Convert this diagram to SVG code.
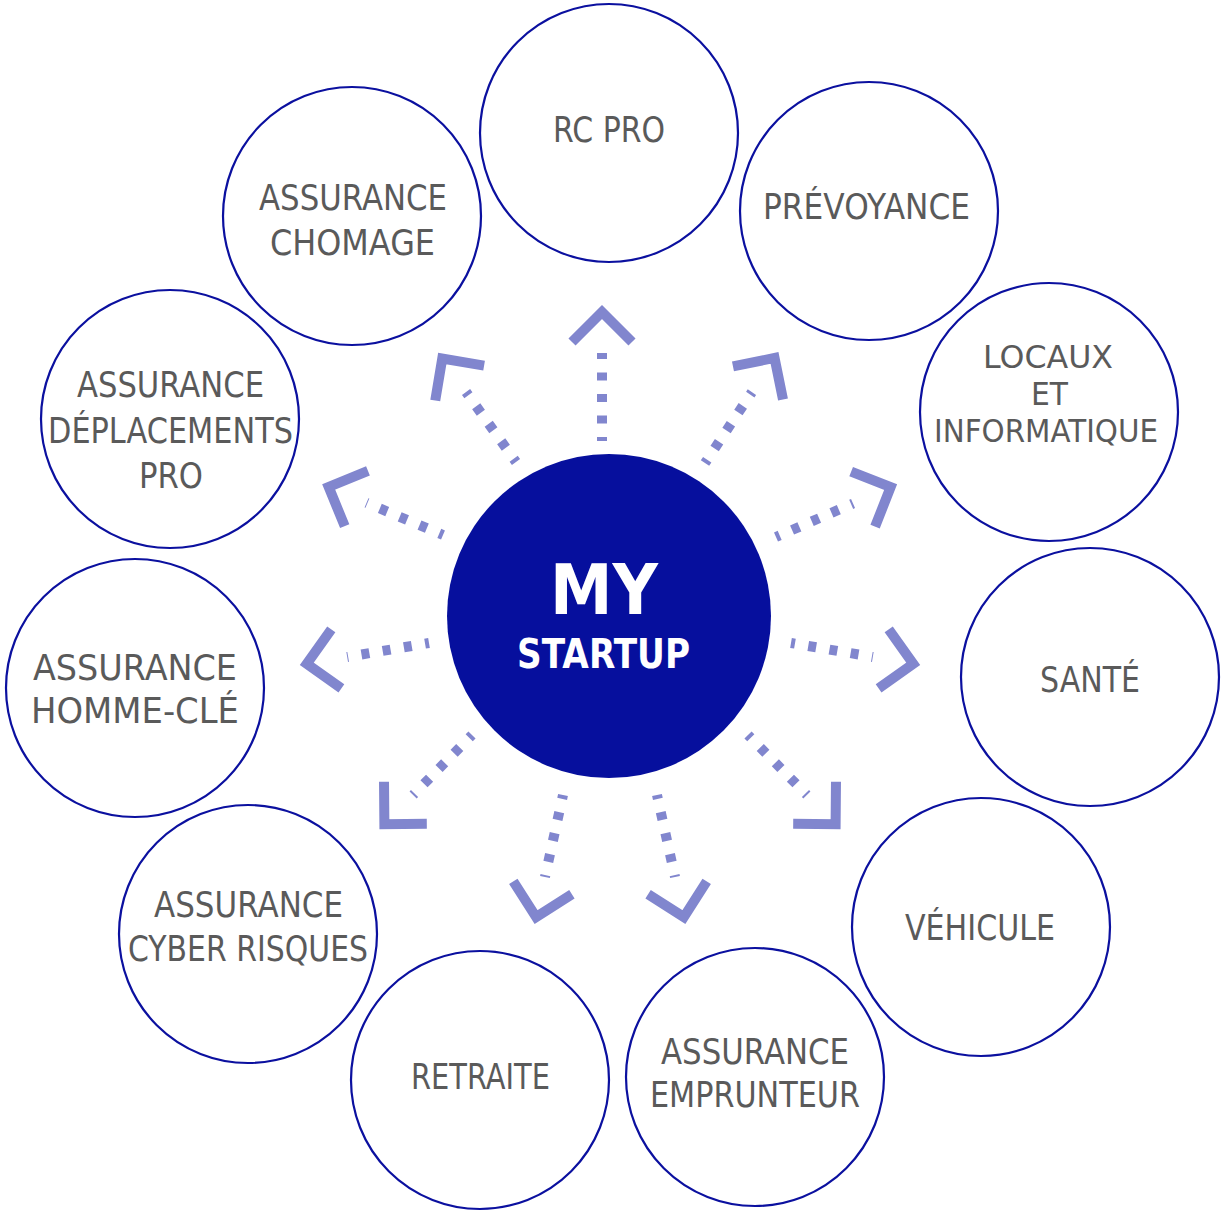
<svg xmlns="http://www.w3.org/2000/svg" width="1221" height="1214" viewBox="0 0 1221 1214">
<defs>
<style>
.node{fill:#ffffff;stroke:#0b109f;stroke-width:2.2}
.lbl{font-family:"DejaVu Sans","Open Sans",sans-serif;font-size:35px;fill:#5a5a5a;text-anchor:middle}
.sm{font-size:31.5px}
.hub{fill:#060f9d}
.hubt{font-family:"DejaVu Sans","Open Sans",sans-serif;font-weight:bold;fill:#ffffff;text-anchor:middle}
.dash{stroke:#8186ce;stroke-width:10;stroke-dasharray:8 13.5;stroke-dashoffset:4;fill:none}
.chev{stroke:#8186ce;stroke-width:10;fill:none;stroke-linejoin:miter;stroke-linecap:butt}
</style>
</defs>
<rect width="1221" height="1214" fill="#ffffff"/>
<g id="connectors">
<g transform="translate(602,441) rotate(-90)"><line class="dash" x1="0" y1="0" x2="88" y2="0"/><polyline class="chev" points="99,-30 129,0 99,30"/></g>
<g transform="translate(705,463) rotate(-56.5)"><line class="dash" x1="0" y1="0" x2="85" y2="0"/><polyline class="chev" points="96,-30 126,0 96,30"/></g>
<g transform="translate(776,537) rotate(-23.5)"><line class="dash" x1="0" y1="0" x2="84" y2="0"/><polyline class="chev" points="95,-30 125,0 95,30"/></g>
<g transform="translate(791,643) rotate(9.7)"><line class="dash" x1="0" y1="0" x2="83" y2="0"/><polyline class="chev" points="94,-30 124,0 94,30"/></g>
<g transform="translate(748,735) rotate(45.5)"><line class="dash" x1="0" y1="0" x2="84" y2="0"/><polyline class="chev" points="95,-30 125,0 95,30"/></g>
<g transform="translate(657,795) rotate(77.6)"><line class="dash" x1="0" y1="0" x2="84" y2="0"/><polyline class="chev" points="95,-30 125,0 95,30"/></g>
<g transform="translate(563,795) rotate(102.4)"><line class="dash" x1="0" y1="0" x2="84" y2="0"/><polyline class="chev" points="95,-30 125,0 95,30"/></g>
<g transform="translate(472,735) rotate(134.5)"><line class="dash" x1="0" y1="0" x2="84" y2="0"/><polyline class="chev" points="95,-30 125,0 95,30"/></g>
<g transform="translate(429,643) rotate(170.3)"><line class="dash" x1="0" y1="0" x2="83" y2="0"/><polyline class="chev" points="94,-30 124,0 94,30"/></g>
<g transform="translate(443,535) rotate(-157.2)"><line class="dash" x1="0" y1="0" x2="83" y2="0"/><polyline class="chev" points="94,-30 124,0 94,30"/></g>
<g transform="translate(516,462) rotate(-125.5)"><line class="dash" x1="0" y1="0" x2="86" y2="0"/><polyline class="chev" points="97,-30 127,0 97,30"/></g>
</g>
<g id="hub">
<circle class="hub" cx="609" cy="616" r="162"/>
<text class="hubt" x="604" y="614" font-size="70" textLength="108" lengthAdjust="spacingAndGlyphs">MY</text>
<text class="hubt" x="603.5" y="668" font-size="40" textLength="173" lengthAdjust="spacingAndGlyphs">STARTUP</text>
</g>
<g id="rc-pro">
<circle class="node" cx="609" cy="133" r="129"/>
<text class="lbl" x="609" y="142" textLength="112" lengthAdjust="spacingAndGlyphs">RC PRO</text>
</g>
<g id="prevoyance">
<circle class="node" cx="869" cy="211" r="129"/>
<text class="lbl" x="866.5" y="219" textLength="207" lengthAdjust="spacingAndGlyphs">PRÉVOYANCE</text>
</g>
<g id="locaux">
<circle class="node" cx="1049" cy="412" r="129"/>
<text class="lbl sm" x="1048" y="368" textLength="130" lengthAdjust="spacingAndGlyphs">LOCAUX</text>
<text class="lbl sm" x="1049.5" y="405" textLength="37" lengthAdjust="spacingAndGlyphs">ET</text>
<text class="lbl sm" x="1046" y="442" textLength="224" lengthAdjust="spacingAndGlyphs">INFORMATIQUE</text>
</g>
<g id="sante">
<circle class="node" cx="1090" cy="677" r="129"/>
<text class="lbl" x="1090" y="692" textLength="100" lengthAdjust="spacingAndGlyphs">SANTÉ</text>
</g>
<g id="vehicule">
<circle class="node" cx="981" cy="927" r="129"/>
<text class="lbl" x="980" y="940" textLength="150" lengthAdjust="spacingAndGlyphs">VÉHICULE</text>
</g>
<g id="emprunteur">
<circle class="node" cx="755" cy="1077" r="129"/>
<text class="lbl" x="755" y="1064" textLength="188" lengthAdjust="spacingAndGlyphs">ASSURANCE</text>
<text class="lbl" x="755" y="1107" textLength="210" lengthAdjust="spacingAndGlyphs">EMPRUNTEUR</text>
</g>
<g id="retraite">
<circle class="node" cx="480" cy="1080" r="129"/>
<text class="lbl" x="480.5" y="1089" textLength="139" lengthAdjust="spacingAndGlyphs">RETRAITE</text>
</g>
<g id="cyber">
<circle class="node" cx="248" cy="934" r="129"/>
<text class="lbl" x="248.5" y="917" textLength="189" lengthAdjust="spacingAndGlyphs">ASSURANCE</text>
<text class="lbl" x="248" y="961" textLength="240" lengthAdjust="spacingAndGlyphs">CYBER RISQUES</text>
</g>
<g id="homme-cle">
<circle class="node" cx="135" cy="688" r="129"/>
<text class="lbl" x="135" y="680" textLength="204" lengthAdjust="spacingAndGlyphs">ASSURANCE</text>
<text class="lbl" x="135" y="723" textLength="208" lengthAdjust="spacingAndGlyphs">HOMME-CLÉ</text>
</g>
<g id="deplacements">
<circle class="node" cx="170" cy="419" r="129"/>
<text class="lbl" x="170.5" y="397" textLength="187" lengthAdjust="spacingAndGlyphs">ASSURANCE</text>
<text class="lbl" x="170.5" y="443" textLength="245" lengthAdjust="spacingAndGlyphs">DÉPLACEMENTS</text>
<text class="lbl" x="171" y="488" textLength="64" lengthAdjust="spacingAndGlyphs">PRO</text>
</g>
<g id="chomage">
<circle class="node" cx="352" cy="216" r="129"/>
<text class="lbl" x="353" y="210" textLength="188" lengthAdjust="spacingAndGlyphs">ASSURANCE</text>
<text class="lbl" x="352.5" y="255" textLength="165" lengthAdjust="spacingAndGlyphs">CHOMAGE</text>
</g>
</svg>
